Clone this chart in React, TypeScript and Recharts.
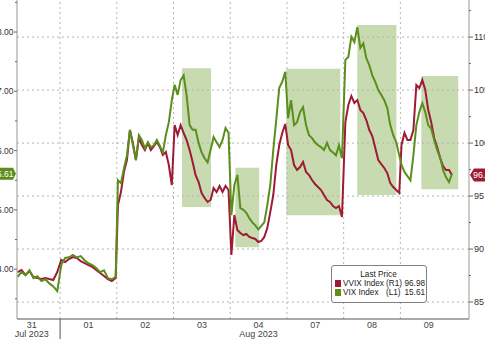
import React from 'react';
import { LineChart, Line, XAxis, YAxis, ReferenceArea, ReferenceLine, ReferenceDot, Legend } from 'recharts';

const dayLabels = ['31', '01', '02', '03', '04', '07', '08', '09'];
const monthLabels: Record<number, string> = { 0: 'Jul 2023', 4: 'Aug 2023' };

// intraday VIX prints (left axis), one row per session
const vixSessions = [
  [13.87, 13.95, 13.9, 13.98, 13.85, 13.88, 13.8, 13.83, 13.76, 13.71, 13.63],
  [14.07, 14.19, 14.2, 14.24, 14.2, 14.22, 14.15, 14.1, 14.07, 14.02, 13.95, 13.98, 13.85, 13.83, 13.87],
  [15.5, 15.45, 15.7, 15.92, 16.35, 16.09, 15.84, 16.26, 16.18, 16.04, 16.14, 16.06, 16.09, 16.18, 16.08, 15.97, 16.26, 16.48, 16.85],
  [17.11, 16.94, 17.19, 17.27, 16.93, 16.43, 16.35, 16.35, 16.13, 15.97, 15.87, 15.8, 16.01, 16.23, 16.14, 16.06, 16.18, 16.38, 16.3],
  [14.91, 15.42, 15.59, 15.03, 15.0, 14.95, 14.86, 14.79, 14.74, 14.67, 14.73, 14.79, 15.08, 15.42, 16.01, 16.52, 17.06, 17.16, 17.33],
  [16.55, 16.85, 16.43, 16.48, 16.65, 16.73, 16.43, 16.26, 16.21, 16.14, 16.09, 16.06, 16.01, 16.13, 16.01, 15.97, 15.92, 16.09, 15.87],
  [17.53, 17.58, 17.92, 17.83, 18.08, 17.73, 17.81, 17.56, 17.44, 17.27, 17.16, 17.02, 16.94, 16.85, 16.72, 16.43, 16.26, 16.14, 15.92],
  [15.76, 15.64, 15.57, 15.5, 15.92, 16.43, 16.65, 16.8, 16.65, 16.43, 16.37, 16.18, 16.01, 15.89, 15.67, 15.55, 15.47, 15.61],
];

// intraday VVIX prints (right axis)
const vvixSessions = [
  [87.83, 88.02, 87.55, 87.93, 87.36, 87.27, 87.17, 87.27, 87.17, 87.08, 87.83],
  [88.97, 88.78, 89.06, 89.25, 89.15, 88.87, 88.68, 88.49, 88.31, 88.02, 87.74, 87.46, 87.17, 86.98, 87.27],
  [94.15, 95.38, 97.27, 98.4, 101.23, 100.0, 98.4, 100.48, 99.82, 99.34, 100.0, 99.34, 99.72, 100.1, 99.63, 98.87, 99.15, 97.93, 96.04],
  [101.7, 100.76, 101.7, 100.95, 100.29, 99.34, 98.21, 96.98, 96.32, 95.29, 94.82, 94.44, 94.63, 95.76, 95.38, 95.95, 95.38, 95.95, 95.57],
  [89.44, 93.21, 91.8, 91.51, 91.32, 91.42, 91.14, 91.04, 90.95, 90.66, 90.76, 91.14, 91.98, 93.49, 95.1, 97.93, 99.82, 100.95, 101.8],
  [99.82, 99.34, 97.93, 97.46, 97.74, 98.21, 97.27, 96.98, 96.51, 96.14, 95.85, 95.57, 95.1, 94.63, 94.44, 94.06, 93.87, 94.06, 93.02],
  [101.98, 103.59, 104.44, 103.78, 104.06, 103.12, 102.83, 102.17, 101.23, 100.66, 99.53, 98.4, 98.02, 97.65, 97.17, 96.23, 95.85, 95.57, 95.29],
  [99.82, 100.95, 100.29, 100.29, 101.23, 105.48, 105.19, 105.95, 105.0, 103.12, 101.98, 100.48, 99.63, 98.59, 97.83, 97.46, 97.46, 96.98],
];

// part of each session covered by the prints
const sessionOpen = [0.25, 0.02, 0.02, 0.02, 0.02, 0.02, 0.03, 0.02];
const sessionClose = [0.95, 0.98, 0.97, 0.97, 0.97, 0.97, 0.98, 0.91];

// shaded ranges (session time, VIX level)
const highlightBoxes = [
  { from: 3.15, to: 3.66, low: 15.05, high: 17.39 },
  { from: 4.09, to: 4.51, low: 14.37, high: 15.71 },
  { from: 4.99, to: 5.94, low: 14.91, high: 17.38 },
  { from: 6.24, to: 6.93, low: 15.25, high: 18.12 },
  { from: 7.37, to: 8.02, low: 15.35, high: 17.26 },
];

const leftTicks = [13.5, 14, 14.5, 15, 15.5, 16, 16.5, 17, 17.5, 18, 18.5];
const rightTicks = [85, 87.5, 90, 92.5, 95, 97.5, 100, 102.5, 105, 107.5, 110, 112.5];

const data = vixSessions.flatMap((row, d) =>
  row.map((vix, i) => ({
    t: d + sessionOpen[d] + ((sessionClose[d] - sessionOpen[d]) * i) / (row.length - 1),
    vix,
    vvix: vvixSessions[d][i],
  }))
);

const lastVix = vixSessions[vixSessions.length - 1].slice(-1)[0];
const lastVvix = vvixSessions[vvixSessions.length - 1].slice(-1)[0];

const GREEN = '#5a8f1b';
const RED = '#9e1a35';
const FONT = '"Liberation Sans", Arial, sans-serif';
const X_DOMAIN: [number, number] = [0.24, 8.21];

const LeftTick = (props: any) => {
  const { x, y, payload } = props;
  const major = Number.isInteger(payload.value);
  return (
    <g>
      <line x1={x - (major ? 3 : 2)} x2={x} y1={y} y2={y} stroke="#666" />
      {major && (
        <text x={x - 3.5} y={y + 3} textAnchor="end" fontSize={8.5} fill="#333" fontFamily={FONT}>
          {payload.value.toFixed(2)}
        </text>
      )}
    </g>
  );
};

const RightTick = (props: any) => {
  const { x, y, payload } = props;
  const major = payload.value % 5 === 0;
  return (
    <g>
      <line x1={x} x2={x + (major ? 4 : 2)} y1={y} y2={y} stroke="#666" />
      {major && (
        <text x={x + 5} y={y + 3} textAnchor="start" fontSize={9} fill="#333" fontFamily={FONT}>
          {payload.value}
        </text>
      )}
    </g>
  );
};

const DayTick = (props: any) => {
  const { x, y, payload } = props;
  const v = payload.value;
  if (Number.isInteger(v)) {
    return <line x1={x} x2={x} y1={y} y2={y + 22} stroke="#555" />;
  }
  const d = Math.floor(v);
  return (
    <g fontFamily={FONT} fontSize={9} fill="#444" textAnchor="middle">
      <text x={x} y={y + 9}>{dayLabels[d]}</text>
      {monthLabels[d] && <text x={x} y={y + 18}>{monthLabels[d]}</text>}
    </g>
  );
};

const xTicks = [...dayLabels.map((_, d) => d + 0.5), 1];

const LeftTag = (props: any) => {
  const { cx, cy } = props;
  return (
    <g>
      <path d={`M${cx - 1},${cy} L${cx - 4},${cy - 6} L${cx - 40},${cy - 6} L${cx - 40},${cy + 6} L${cx - 4},${cy + 6} Z`} fill={GREEN} />
      <text x={cx - 3.5} y={cy + 3} textAnchor="end" fontSize={8.5} fill="#fff" fontFamily={FONT}>
        {lastVix.toFixed(2)}
      </text>
    </g>
  );
};

const RightTag = (props: any) => {
  const { cx, cy } = props;
  return (
    <g>
      <path d={`M${cx + 1},${cy} L${cx + 5},${cy - 6.5} L${cx + 40},${cy - 6.5} L${cx + 40},${cy + 6.5} L${cx + 5},${cy + 6.5} Z`} fill={RED} />
      <text x={cx + 4} y={cy + 3} textAnchor="start" fontSize={9} fill="#fff" fontFamily={FONT}>
        {lastVvix.toFixed(2)}
      </text>
    </g>
  );
};

const legendRows = [
  { name: 'VVIX Index', tag: '(R1)', value: lastVvix, color: RED },
  { name: 'VIX Index', tag: '(L1)', value: lastVix, color: GREEN },
];

const LegendBox = () => (
  <div
    style={{
      border: '1px solid #808080',
      borderRadius: 3,
      background: '#fff',
      padding: '4px 4px 5px 3px',
      fontFamily: FONT,
      fontSize: 8.2,
      lineHeight: '9px',
      color: '#222',
    }}
  >
    <div style={{ textAlign: 'center' }}>Last Price</div>
    {legendRows.map((r) => (
      <div key={r.name} style={{ display: 'flex', alignItems: 'center', whiteSpace: 'nowrap' }}>
        <span style={{ width: 6, height: 7, background: r.color, marginRight: 2, flex: 'none' }} />
        <span style={{ width: 43, flex: 'none' }}>{r.name}</span>
        <span style={{ width: 18, flex: 'none' }}>{r.tag}</span>
        <span style={{ width: 21, flex: 'none', textAlign: 'right' }}>{r.value.toFixed(2)}</span>
      </div>
    ))}
  </div>
);

const App: React.FC = () => {
  return (
    <div style={{ position: 'fixed', left: -30, top: 0, width: 515, height: 339, background: '#fff' }}>
      <LineChart width={515} height={339} data={data} margin={{ top: 0, right: 0, bottom: 0, left: 0 }}>
        <XAxis
          type="number"
          dataKey="t"
          domain={X_DOMAIN}
          allowDataOverflow
          ticks={xTicks}
          interval={0}
          tick={<DayTick />}
          tickSize={0}
          tickMargin={0}
          height={20}
          stroke="#555"
        />
        <YAxis
          yAxisId="left"
          orientation="left"
          domain={[13.16, 18.54]}
          allowDataOverflow
          ticks={leftTicks}
          interval={0}
          tick={<LeftTick />}
          tickSize={0}
          tickMargin={0}
          width={47}
          stroke="#9a9a8c"
        />
        <YAxis
          yAxisId="right"
          orientation="right"
          domain={[83.4, 113.5]}
          allowDataOverflow
          ticks={rightTicks}
          interval={0}
          tick={<RightTick />}
          tickSize={0}
          tickMargin={0}
          width={16}
          stroke="#9a9a8c"
        />
        {highlightBoxes.map((b, i) => (
          <ReferenceArea
            key={i}
            yAxisId="left"
            x1={b.from}
            x2={b.to}
            y1={b.low}
            y2={b.high}
            fill="#c7dab0"
            fillOpacity={1}
            stroke="none"
          />
        ))}
        {[85, 90, 95, 100, 105, 110].map((v) => (
          <ReferenceLine key={v} yAxisId="right" y={v} stroke="#b4b4b4" strokeDasharray="2 3" />
        ))}
        {[1, 2, 3, 4, 5, 6, 7].map((d) => (
          <ReferenceLine key={d} yAxisId="left" x={d} stroke="#b4b4b4" strokeDasharray="2 3" />
        ))}
        <Line
          yAxisId="right"
          type="linear"
          dataKey="vvix"
          stroke={RED}
          strokeWidth={2}
          dot={false}
          isAnimationActive={false}
        />
        <Line
          yAxisId="left"
          type="linear"
          dataKey="vix"
          stroke={GREEN}
          strokeWidth={2}
          dot={false}
          isAnimationActive={false}
        />
        <ReferenceDot yAxisId="left" x={X_DOMAIN[0]} y={lastVix} r={0} ifOverflow="visible" shape={<LeftTag />} />
        <ReferenceDot yAxisId="right" x={X_DOMAIN[1]} y={lastVvix} r={0} ifOverflow="visible" shape={<RightTag />} />
        <Legend
          verticalAlign="middle"
          align="center"
          layout="horizontal"
          wrapperStyle={{ position: 'absolute', left: 361, top: 265, width: 96, height: 'auto' }}
          content={() => <LegendBox />}
        />
      </LineChart>
    </div>
  );
};

export default App;
